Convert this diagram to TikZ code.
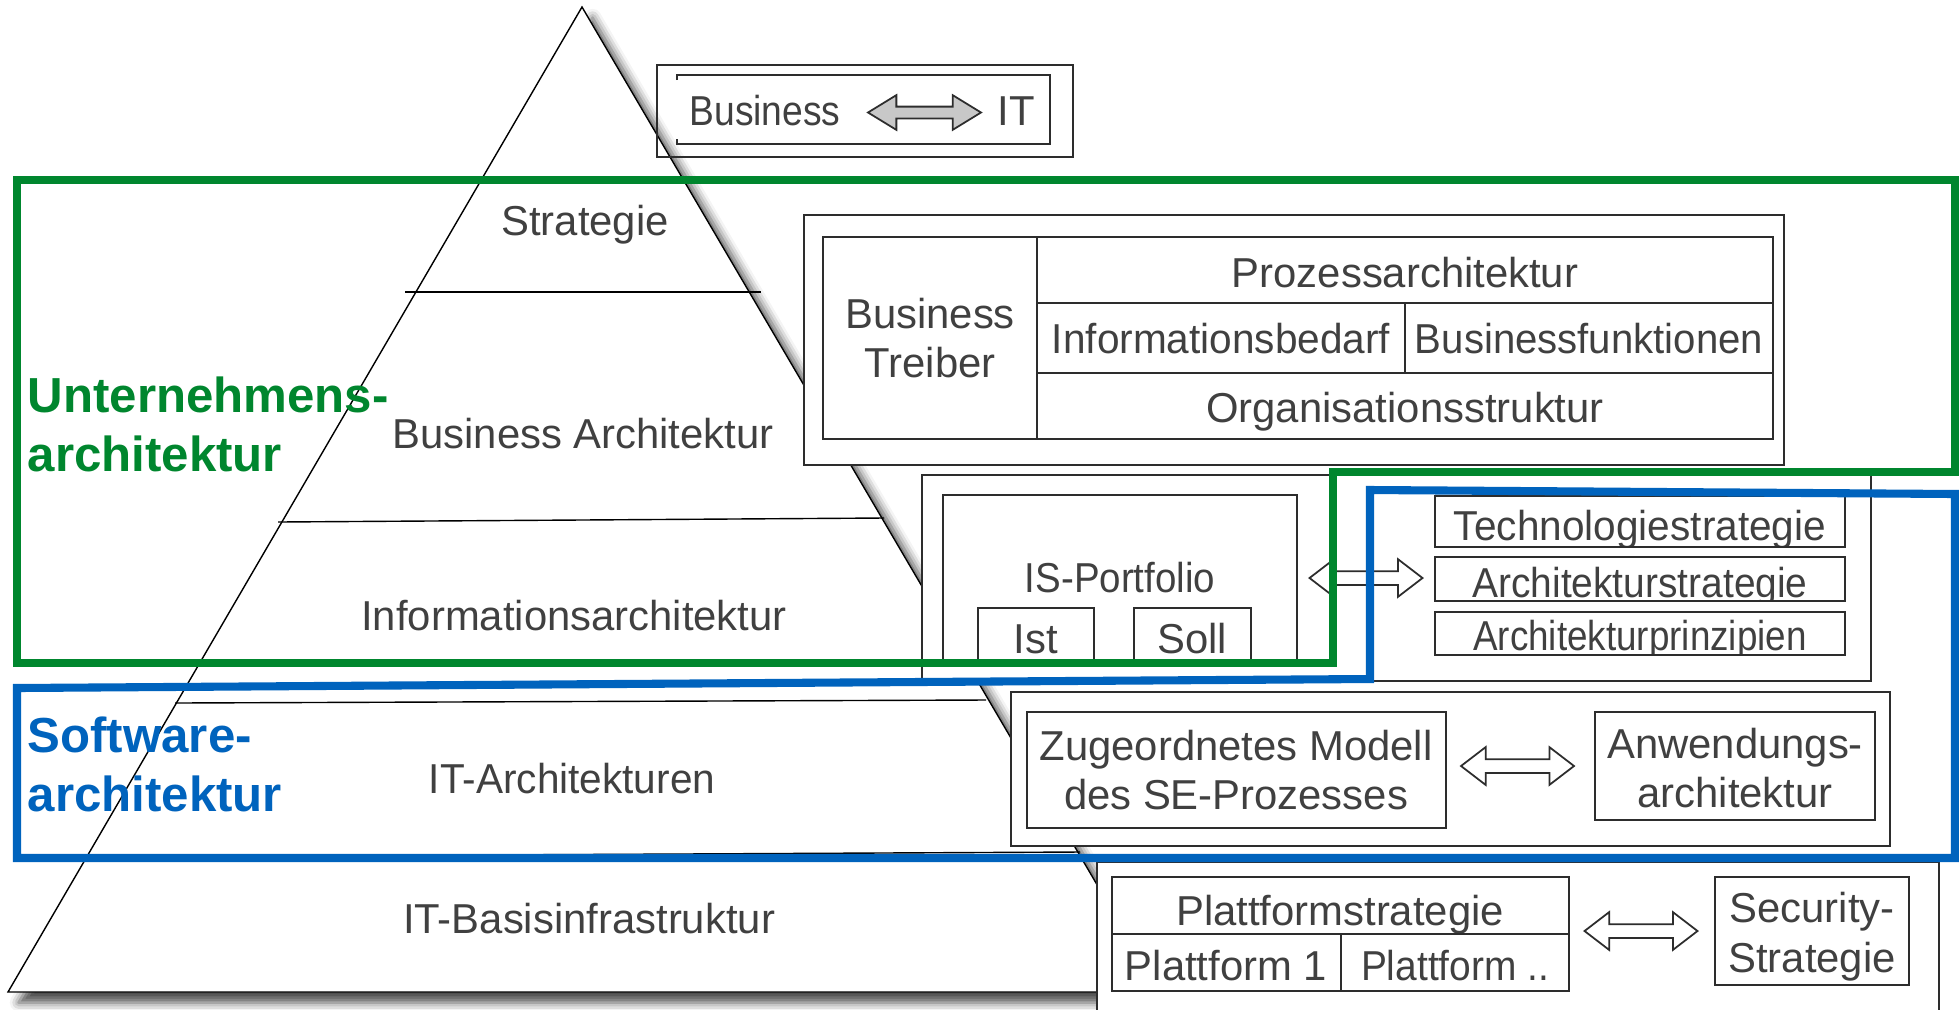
\documentclass[tikz,border=0pt]{standalone}
\usepackage{fontspec}
\setmainfont{Liberation Sans}
\usetikzlibrary{shapes.arrows}
\usetikzlibrary{shadows.blur}

\definecolor{txtgray}{RGB}{64,64,64}
\definecolor{boxgray}{RGB}{45,45,45}
\definecolor{archgreen}{RGB}{0,134,46}
\definecolor{archblue}{RGB}{0,99,189}
\definecolor{arrgray}{RGB}{200,200,200}

\newcommand{\sq}[2]{\scalebox{#1}[1]{#2}}

\tikzset{
  lbl/.style={text=txtgray, font=\fontsize{11.9}{14.2}\selectfont, inner sep=0pt},
  biglbl/.style={font=\bfseries\fontsize{14}{16.8}\selectfont, inner sep=0pt, align=left, anchor=west},
  box/.style={draw=boxgray, line width=0.6pt},
  layer/.style={line width=0.4pt},
  fatarrow/.style={double arrow, draw=boxgray, fill=white, line width=0.5pt, inner xsep=0pt, inner ysep=0.6mm,
    minimum height=11.3mm, double arrow head extend=1.2mm, double arrow tip angle=75},
  frame/.style={line width=2.3pt, line join=miter},
}

\begin{document}
\begin{tikzpicture}[x=0.1mm, y=-0.1mm]
\useasboundingbox (0,0) rectangle (1959,1009);

% pyramid
\draw[layer, fill=white, blur shadow={shadow xshift=3pt, shadow yshift=-3pt, shadow blur radius=2.5pt, shadow opacity=70}] (582,7) -- (1160,992) -- (8,992) -- cycle;
\draw[layer] (405,292) -- (761,292);
\draw[layer] (278,522) -- (884,518);
\draw[layer] (175,703) -- (986,700);
\draw[layer] (80,857) -- (1080,852);

\node[lbl, anchor=base] (strat) at (585,235) {Strategie};
\node[lbl, anchor=base] (busarch) at (583,448) {Business Architektur};
\node[lbl, anchor=base] (infarch) at (574,630) {Informationsarchitektur};
\node[lbl, anchor=base] (itarch) at (572,793) {\sq{0.97}{IT-Architekturen}};
\node[lbl, anchor=base] (itbasis) at (589,933) {IT-Basisinfrastruktur};

% Business <-> IT
\draw[box] (657,65) rectangle (1073,157);
\draw[box] (677,80) -- (677,75) -- (1050,75) -- (1050,144) -- (677,144) -- (677,139);
\node[lbl, anchor=base] (bus) at (765,125) {\sq{0.89}{Business}};
\node[lbl, anchor=base] (it) at (1016,125) {IT};
\node[fatarrow, fill=arrgray, inner ysep=0.5mm, double arrow head extend=1.15mm, double arrow tip angle=63] (ar1) at (924.5,112.5) {};

% business architecture table
\draw[box, fill=white] (804,215) rectangle (1784,465);
\draw[box] (823,237) rectangle (1773,439);
\draw[box] (1037,237) -- (1037,439);
\draw[box] (1037,303) -- (1773,303);
\draw[box] (1037,373) -- (1773,373);
\draw[box] (1405,303) -- (1405,373);
\node[lbl, align=center] (treiber) at (930,338) {Business\\Treiber};
\node[lbl, anchor=base] (prozess) at (1405,287) {Prozessarchitektur};
\node[lbl, anchor=base] (infbed) at (1221,353) {\sq{0.97}{Informationsbedarf}};
\node[lbl, anchor=base] (busfkt) at (1589,353) {\sq{0.96}{Businessfunktionen}};
\node[lbl, anchor=base] (orga) at (1405,422) {Organisationsstruktur};

% IS-Portfolio
\draw[box, fill=white] (922,475) rectangle (1871,681);
\draw[box] (943,495) rectangle (1297,663);
\draw[box] (978,608) rectangle (1094,663);
\draw[box] (1134,608) rectangle (1251,663);
\node[lbl, anchor=base] (isport) at (1120,592) {\sq{0.92}{IS-Portfolio}};
\node[lbl, anchor=base] (ist) at (1036,653) {Ist};
\node[lbl, anchor=base] (soll) at (1192,653) {Soll};
\node[fatarrow] (ar2) at (1366,578) {};
\foreach \ya/\yb/\yt/\sc/\txt [count=\i] in {496/547/540/0.97/Technologiestrategie, 557/601/597/0.93/Architekturstrategie, 612/655/650/0.88/Architekturprinzipien} {
  \begin{scope}
    \clip (1435,\ya) rectangle (1845,\yb);
    \node[lbl, anchor=base] (strat\i) at (1640,\yt) {\sq{\sc}{\txt}};
  \end{scope}
  \draw[box] (1435,\ya) rectangle (1845,\yb);
}

% SE process
\draw[box, fill=white] (1011,692) rectangle (1890,846);
\draw[box] (1027,712) rectangle (1446,828);
\draw[box] (1595,712) rectangle (1875,820);
\node[lbl, align=center] (zug) at (1236,770) {Zugeordnetes Modell\\des SE-Prozesses};
\node[lbl, align=center] (anw) at (1735,768) {Anwendungs-\\architektur};
\node[fatarrow] (ar3) at (1517.5,766) {};

% platforms
\draw[box, fill=white] (1097,862) rectangle (1939,1040);
\begin{scope}
  \clip (1112,877) rectangle (1569,934);
  \node[lbl, anchor=base] (pfstrat) at (1340,925) {Plattformstrategie};
\end{scope}
\draw[box] (1112,877) rectangle (1569,991);
\draw[box] (1112,934) -- (1569,934);
\draw[box] (1341,934) -- (1341,991);
\node[lbl, anchor=base] (pf1) at (1226,980) {Plattform 1};
\node[lbl, anchor=base] (pfn) at (1455,980) {\sq{0.93}{Plattform ..}};
\draw[box] (1715,877) rectangle (1909,985);
\node[lbl, align=center] (sec) at (1812,937) {Security-\\Strategie};
\node[fatarrow] (ar4) at (1641,931) {};

% frames
\draw[frame, draw=archgreen] (17,180) -- (1955,180) -- (1955,472) -- (1333,472) -- (1333,663) -- (17,663) -- cycle;
\draw[frame, draw=archblue] (17,688) -- (1370,679) -- (1370,490) -- (1955,494) -- (1955,858) -- (17,858) -- cycle;
\node[biglbl, text=archgreen] (unt) at (27,424.5) {Unternehmens-\\architektur};
\node[biglbl, text=archblue] (sw) at (27,764) {Software-\\architektur};
\end{tikzpicture}
\end{document}
